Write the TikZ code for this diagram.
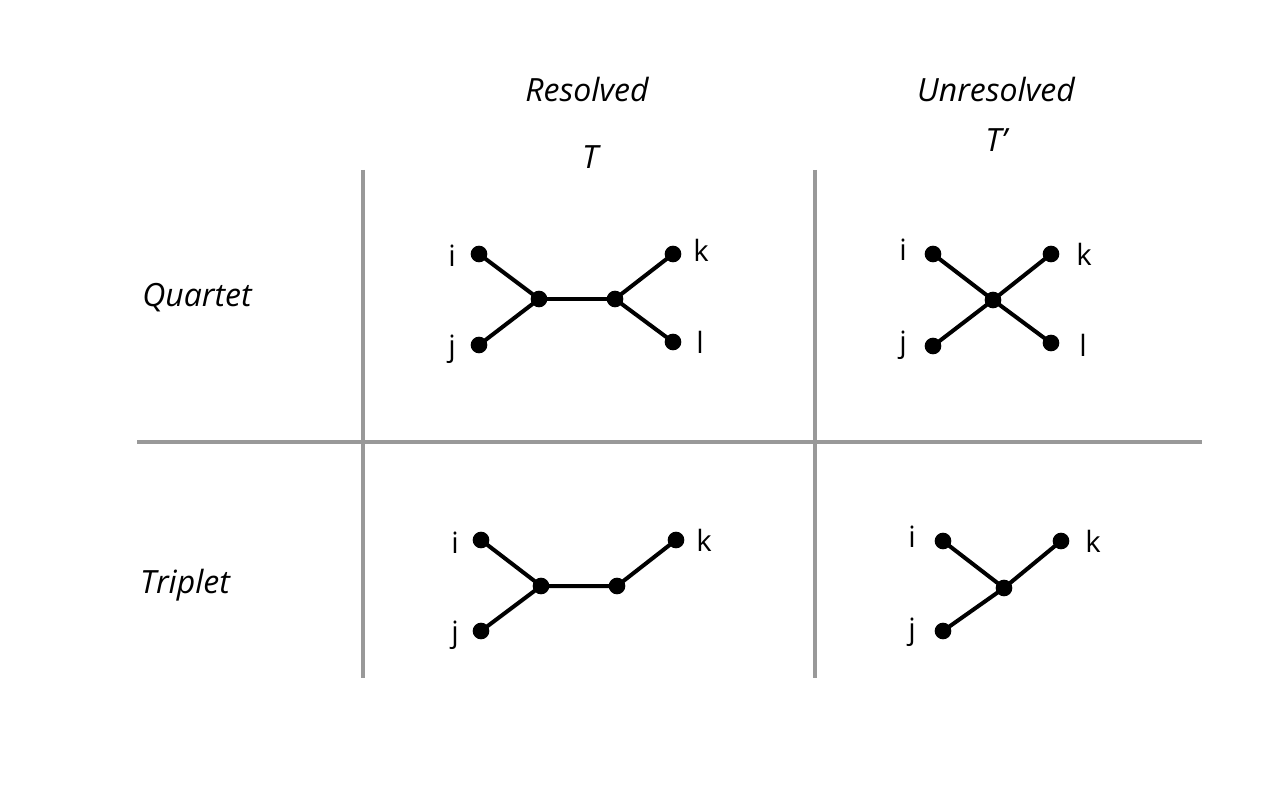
\documentclass[tikz,border=0pt]{standalone}
\usepackage{fontspec}
\setmainfont{Open Sans}
\begin{document}
\begin{tikzpicture}[x=0.75pt,y=-0.75pt,
  grid/.style={draw=black!40,line width=2.4pt},
  edge/.style={draw=black,line width=3pt},
  dot/.style={circle,fill=black,inner sep=0pt,minimum size=12.5pt},
  head/.style={font=\fontsize{24}{28}\selectfont\itshape},
  lab/.style={font=\fontsize{22}{26}\selectfont}]
\useasboundingbox (0,0) rectangle (1284,787);
% grid
\coordinate (v1t) at (363,170); \coordinate (v1b) at (363,678);
\coordinate (v2t) at (815,170); \coordinate (v2b) at (815,678);
\coordinate (hl) at (137,442); \coordinate (hr) at (1202,442);
\draw[grid] (v1t) -- (v1b);
\draw[grid] (v2t) -- (v2b);
\draw[grid] (hl) -- (hr);
% headers
\node[head] (hres) at (587,90) {Resolved};
\node[head] (hT) at (590,157) {T};
\node[head] (hunr) at (996,90) {Unresolved};
\node[head] (hTp) at (996,140) {T’};
\node[head] (hq) at (197,298) {Quartet};
\node[head] (ht) at (185,585) {Triplet};
% quartet resolved
\node[dot] (qi) at (479,254) {};
\node[dot] (qj) at (479,345) {};
\node[dot] (qa) at (539,299) {};
\node[dot] (qb) at (615,299) {};
\node[dot] (qk) at (673,254) {};
\node[dot] (ql) at (673,342) {};
\draw[edge] (qi.center) -- (qa.center) -- (qj.center);
\draw[edge] (qa.center) -- (qb.center);
\draw[edge] (qk.center) -- (qb.center) -- (ql.center);
\node[lab] (lqi) at (452,256) {i};
\node[lab] (lqj) at (452,349) {j};
\node[lab] (lqk) at (701,250) {k};
\node[lab] (lql) at (700,342) {l};
% quartet unresolved
\node[dot] (ui) at (933,254) {};
\node[dot] (uj) at (933,346) {};
\node[dot] (uc) at (993,300) {};
\node[dot] (uk) at (1051,254) {};
\node[dot] (ul) at (1051,343) {};
\draw[edge] (ui.center) -- (uc.center) -- (ul.center);
\draw[edge] (uj.center) -- (uc.center) -- (uk.center);
\node[lab] (lui) at (903,250) {i};
\node[lab] (luj) at (903,345) {j};
\node[lab] (luk) at (1084,254) {k};
\node[lab] (lul) at (1083,345) {l};
% triplet resolved
\node[dot] (ti) at (481,540) {};
\node[dot] (tj) at (481,631) {};
\node[dot] (ta) at (541,586) {};
\node[dot] (tb) at (617,586) {};
\node[dot] (tk) at (676,540) {};
\draw[edge] (ti.center) -- (ta.center) -- (tj.center);
\draw[edge] (ta.center) -- (tb.center) -- (tk.center);
\node[lab] (lti) at (455,543) {i};
\node[lab] (ltj) at (455,635) {j};
\node[lab] (ltk) at (704,540) {k};
% triplet unresolved
\node[dot] (si) at (943,541) {};
\node[dot] (sj) at (943,631) {};
\node[dot] (sc) at (1004,588) {};
\node[dot] (sk) at (1061,541) {};
\draw[edge] (si.center) -- (sc.center) -- (sk.center);
\draw[edge] (sj.center) -- (sc.center);
\node[lab] (lsi) at (912,537) {i};
\node[lab] (lsj) at (912,632) {j};
\node[lab] (lsk) at (1093,541) {k};
\end{tikzpicture}
\end{document}
